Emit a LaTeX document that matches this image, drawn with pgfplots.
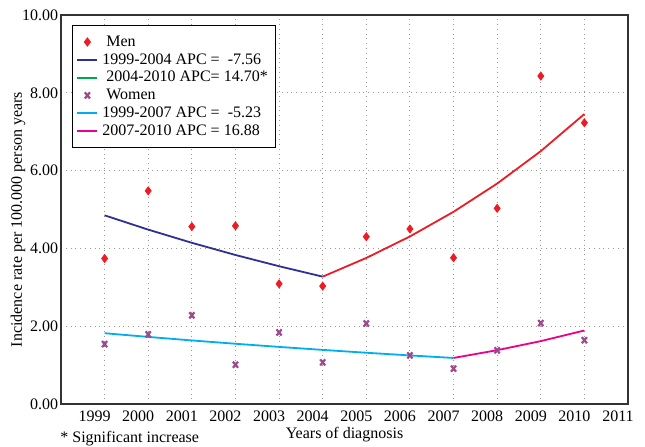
\documentclass[border=0pt]{standalone}
\usepackage{fontspec}
\setmainfont{Liberation Serif}
\usepackage{pgfplots}
\pgfplotsset{compat=1.18}
\definecolor{menred}{RGB}{237,28,36}
\definecolor{blueline}{RGB}{46,49,146}
\definecolor{greenline}{RGB}{0,166,81}
\definecolor{womenpurple}{RGB}{158,73,140}
\definecolor{cyanline}{RGB}{0,174,239}
\definecolor{pinkline}{RGB}{236,0,140}
\begin{document}
\begin{tikzpicture}[font=\fontsize{8}{9.5}\selectfont]
\begin{axis}[
  scale only axis, width=283.5pt, height=194.5pt,
  xmin=1998, xmax=2011, ymin=0, ymax=10,
  xtick={1999,2000,...,2011}, ytick={0,2,4,6,8,10},
  grid=major, grid style={dotted, gray!80, line width=0.5pt},
  major tick length=0pt,
  axis line style={line width=1pt, black!80},
  /pgf/number format/assume math mode=true,
  xticklabel={\rmfamily\pgfmathprintnumber[1000 sep={}, assume math mode=true]{\tick}},
  xticklabel style={xshift=-5pt, inner sep=1pt, yshift=-2pt},
  yticklabel={\rmfamily\pgfmathprintnumber[fixed, fixed zerofill, precision=2, assume math mode=true]{\tick}},
  yticklabel style={inner xsep=1.2pt},
  legend image code/.code={\draw[mark repeat=2,mark phase=2] plot coordinates {(0pt,0pt) (5pt,0pt) (10pt,0pt)};},
  legend style={at={(axis description cs:0.0194,0.974)}, anchor=north west,
    draw=black, line width=0.5pt, fill=white, font=\fontsize{8}{9.5}\selectfont,
    inner xsep=2pt, inner ysep=4.3pt, row sep=1.1pt,
    nodes={inner ysep=0pt, text height=6pt, text depth=1.8pt},
    cells={anchor=west}},
  clip=false,
]
\addplot[only marks, mark=diamond*, mark size=2pt, color=menred] coordinates {
(1999,3.74) (2000,5.48) (2001,4.56) (2002,4.58) (2003,3.09) (2004,3.03)
(2005,4.30) (2006,4.50) (2007,3.76) (2008,5.03) (2009,8.43) (2010,7.23)};
\addlegendentry{\ Men}
\addplot[blueline, line width=0.9pt, no marks] coordinates {
(1999,4.85) (2000,4.483) (2001,4.144) (2002,3.831) (2003,3.542) (2004,3.274)};
\addlegendentry{1999-2004 APC = \ -7.56}
\addlegendimage{greenline, line width=0.9pt, no marks}
\addlegendentry{\ 2004-2010 APC= 14.70*}
\addplot[forget plot, menred, line width=0.9pt, no marks] coordinates {
(2004,3.274) (2005,3.755) (2006,4.307) (2007,4.941) (2008,5.667) (2009,6.500) (2010,7.455)};
\addplot[only marks, mark=x, mark size=1.8pt, color=womenpurple, mark options={line width=1.1pt, yscale=1.2}] coordinates {
(1999,1.54) (2000,1.79) (2001,2.28) (2002,1.01) (2003,1.84) (2004,1.07)
(2005,2.07) (2006,1.25) (2007,0.91) (2008,1.38) (2009,2.08) (2010,1.64)};
\addlegendentry{\ Women}
\addplot[cyanline, line width=0.9pt, no marks] coordinates {
(1999,1.82) (2000,1.725) (2001,1.634) (2002,1.549) (2003,1.468) (2004,1.391) (2005,1.318) (2006,1.249) (2007,1.184)};
\addlegendentry{1999-2007 APC = \ -5.23}
\addplot[pinkline, line width=0.9pt, no marks] coordinates {
(2007,1.184) (2008,1.384) (2009,1.617) (2010,1.890)};
\addlegendentry{2007-2010 APC = 16.88}
\coordinate (sw) at (rel axis cs:0,0);
\coordinate (ne) at (rel axis cs:1,1);
\node[rotate=90, anchor=center] at ([xshift=-21.5pt,yshift=-5pt]rel axis cs:0,0.5) {Incidence rate per 100.000 person years};
\node[anchor=center] at ([yshift=-15.5pt]rel axis cs:0.5,0) {Years of diagnosis};
\node[anchor=base west, inner sep=0pt] at ([xshift=-0.5pt,yshift=-19.3pt]rel axis cs:0,0) {* Significant increase};
\end{axis}
\pgfresetboundingbox
\path[use as bounding box] ([xshift=-30.5pt,yshift=-21pt]sw) rectangle ([xshift=8.5pt,yshift=7.5pt]ne);
\end{tikzpicture}
\end{document}
